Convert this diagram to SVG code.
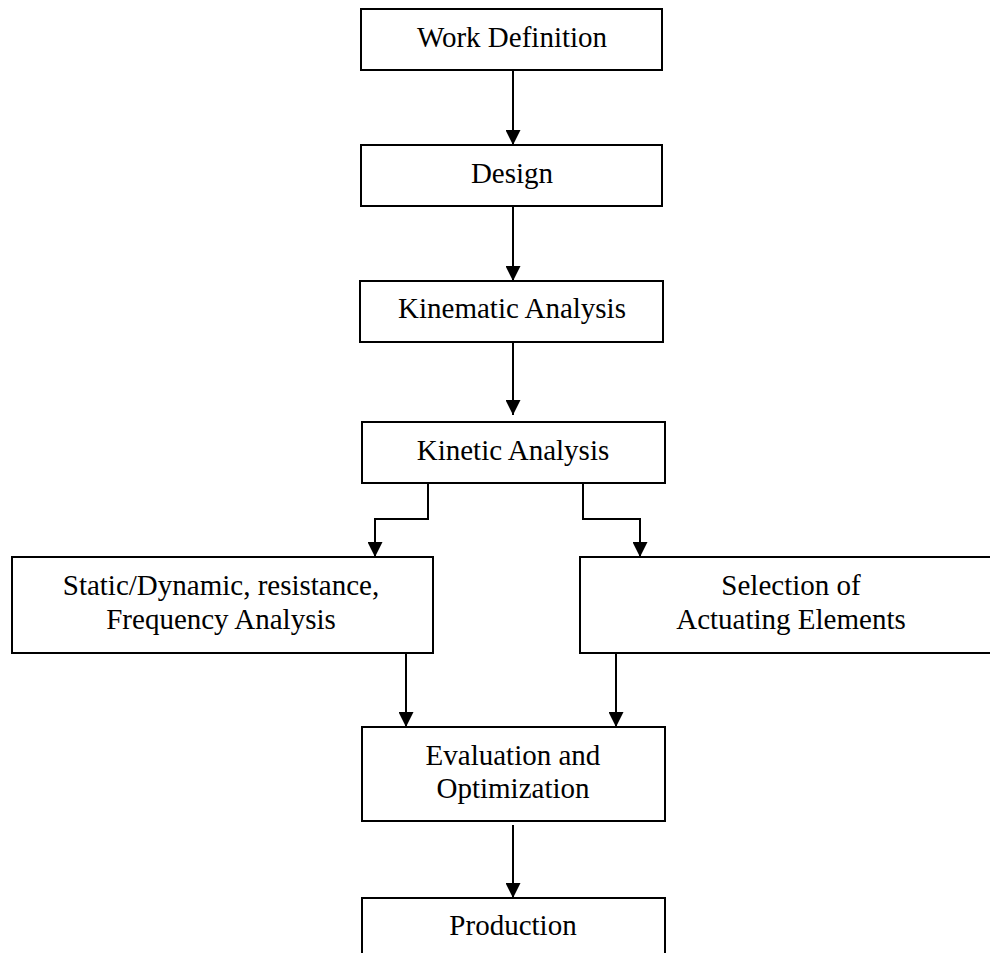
<svg xmlns="http://www.w3.org/2000/svg" width="990" height="953" viewBox="0 0 990 953">
<style>
.box{fill:#fff;stroke:#000;stroke-width:2}
.lbl{font-family:"Liberation Serif","Times New Roman",serif;font-size:29px;fill:#000;text-anchor:middle}
.con{fill:none;stroke:#000;stroke-width:2}
</style>
<defs>
<marker id="ah" viewBox="0 0 15 15" refX="15" refY="7.5" markerWidth="15" markerHeight="15" markerUnits="userSpaceOnUse" orient="auto">
<path d="M0,0 L15,7.5 L0,15 Z" fill="#000"/>
</marker>
</defs>
<rect width="990" height="953" fill="#fff"/>
<g id="connectors">
<path class="con" d="M513,70 V145" marker-end="url(#ah)"/>
<path class="con" d="M513,206 V281" marker-end="url(#ah)"/>
<path class="con" d="M513,342 V415" marker-end="url(#ah)"/>
<path class="con" d="M428,483 V519 H375 V557" marker-end="url(#ah)"/>
<path class="con" d="M583,483 V519 H640 V557" marker-end="url(#ah)"/>
<path class="con" d="M406,653 V727" marker-end="url(#ah)"/>
<path class="con" d="M616,653 V727" marker-end="url(#ah)"/>
<path class="con" d="M513,825 V898" marker-end="url(#ah)"/>
</g>
<g id="work-definition">
<rect class="box" x="361" y="9" width="301" height="61"/>
<text class="lbl" x="512" y="47">Work Definition</text>
</g>
<g id="design">
<rect class="box" x="361" y="145" width="301" height="61"/>
<text class="lbl" x="512" y="183">Design</text>
</g>
<g id="kinematic-analysis">
<rect class="box" x="360" y="281" width="303" height="61"/>
<text class="lbl" x="512" y="318">Kinematic Analysis</text>
</g>
<g id="kinetic-analysis">
<rect class="box" x="362" y="422" width="303" height="61"/>
<text class="lbl" x="513" y="460">Kinetic Analysis</text>
</g>
<g id="static-dynamic">
<rect class="box" x="12" y="557" width="421" height="96"/>
<text class="lbl" x="221" y="595">Static/Dynamic, resistance,</text>
<text class="lbl" x="221" y="629">Frequency Analysis</text>
</g>
<g id="selection">
<rect class="box" x="580" y="557" width="420" height="96"/>
<text class="lbl" x="791" y="595">Selection of</text>
<text class="lbl" x="791" y="629">Actuating Elements</text>
</g>
<g id="evaluation">
<rect class="box" x="362" y="727" width="303" height="94"/>
<text class="lbl" x="513" y="765">Evaluation and</text>
<text class="lbl" x="513" y="798">Optimization</text>
</g>
<g id="production">
<rect class="box" x="362" y="898" width="303" height="70"/>
<text class="lbl" x="513" y="935">Production</text>
</g>
</svg>
